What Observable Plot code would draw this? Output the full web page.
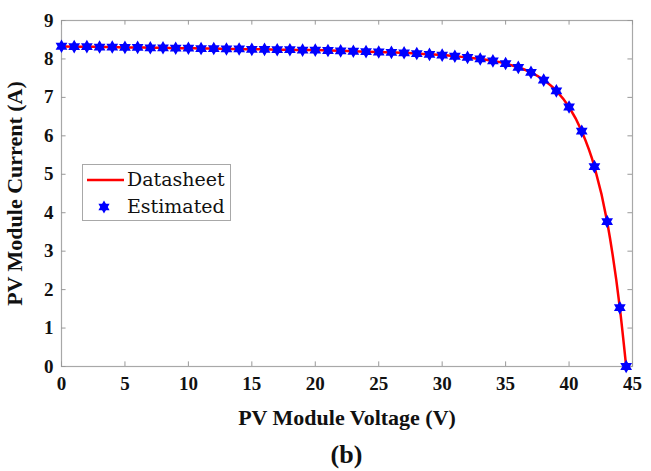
<!DOCTYPE html>
<html>
<head>
<meta charset="utf-8">
<script src="https://cdn.jsdelivr.net/npm/d3@7"></script>
<script src="https://cdn.jsdelivr.net/npm/@observablehq/plot@0.6"></script>
<style>
  html, body { margin: 0; padding: 0; background: #fff; }
  #wrap { position: relative; width: 651px; height: 471px; }
  #legend {
    position: absolute; left: 82px; top: 164px; width: 149px; height: 57px;
    border: 1px solid #a8a8a8; background: #fff; box-sizing: border-box;
    font-family: "DejaVu Serif", serif; font-size: 19px; color: #111;
  }
  .lrow { position: absolute; left: 0; height: 26px; }
  .lrow span { position: absolute; left: 44px; white-space: nowrap; line-height: 26px; }
  #caption {
    position: absolute; left: 61px; width: 571px; top: 438px; text-align: center; line-height: 34px;
    font-family: "Liberation Serif", "Times New Roman", serif; font-weight: bold; font-size: 26px; color: #111;
  }
</style>
</head>
<body>
<div id="wrap">
  <div id="chart"></div>
  <div id="legend">
    <div class="lrow" style="top:2px;">
      <svg width="44" height="26" style="position:absolute;left:3px;top:0"><line x1="1" y1="13" x2="38" y2="13" stroke="#ff0000" stroke-width="2.5"/></svg>
      <span style="top:-1px;">Datasheet</span>
    </div>
    <div class="lrow" style="top:29px;">
      <svg width="44" height="26" style="position:absolute;left:3px;top:0"><g transform="translate(18,13)"><polygon points="0,-6.5 5.6,3.25 -5.6,3.25" fill="#0000ff"/><polygon points="0,6.5 -5.6,-3.25 5.6,-3.25" fill="#0000ff"/></g></svg>
      <span style="top:-1px;">Estimated</span>
    </div>
  </div>
  <div id="caption">(b)</div>
</div>
<script>
// Data
const voltage = [0,1,2,3,4,5,6,7,8,9,10,11,12,13,14,15,16,17,18,19,20,21,22,23,24,25,26,27,28,29,30,31,32,33,34,35,36,37,38,39,40,41,42,43,44,44.5];
const datasheetCurrent = [8.33,8.32,8.32,8.31,8.31,8.30,8.30,8.29,8.29,8.28,8.28,8.27,8.27,8.26,8.26,8.25,8.25,8.24,8.24,8.23,8.23,8.22,8.21,8.20,8.19,8.18,8.17,8.16,8.14,8.12,8.10,8.07,8.04,8.00,7.95,7.88,7.78,7.65,7.45,7.17,6.75,6.12,5.20,3.77,1.53,0];
const estimatedCurrent = [8.33,8.32,8.32,8.31,8.31,8.30,8.30,8.29,8.29,8.28,8.28,8.27,8.27,8.26,8.26,8.25,8.25,8.24,8.24,8.23,8.23,8.22,8.21,8.20,8.19,8.18,8.17,8.16,8.14,8.12,8.10,8.07,8.04,8.00,7.95,7.88,7.78,7.65,7.45,7.17,6.75,6.12,5.20,3.77,1.53,0];
const xTicks = [0,5,10,15,20,25,30,35,40,45];
const yTicks = [0,1,2,3,4,5,6,7,8,9];
const xLabel = "PV Module Voltage (V)";
const yLabel = "PV Module Current (A)";

const datasheet = voltage.map((v, i) => ({v, i: datasheetCurrent[i]}));
const estimated = voltage.map((v, i) => ({v, i: estimatedCurrent[i]}));

const hexagram = {
  draw(ctx, size) {
    const R = Math.sqrt(size / Math.PI);
    const c = R * Math.cos(Math.PI / 6);
    ctx.moveTo(0, -R); ctx.lineTo(c, R / 2); ctx.lineTo(-c, R / 2); ctx.closePath();
    ctx.moveTo(0, R); ctx.lineTo(-c, -R / 2); ctx.lineTo(c, -R / 2); ctx.closePath();
  }
};

const tl = 0.12;   // inward tick length in y units (~4.6px)
const tlx = 0.36;  // inward tick length in x units (~4.6px)

const chart = Plot.plot({
  width: 651,
  height: 440,
  marginLeft: 61,
  marginRight: 19,
  marginTop: 20,
  marginBottom: 74,
  style: {fontFamily: "'Liberation Serif', 'Times New Roman', serif", fontWeight: "bold", fontSize: "19px", color: "#111", background: "#fff"},
  x: {domain: [0, 45]},
  y: {domain: [0, 9]},
  marks: [
    Plot.frame({stroke: "#a8a8a8", strokeWidth: 1.2}),
    Plot.ruleX(xTicks, {x: d => d, y1: 0, y2: tl, stroke: "#999"}),
    Plot.ruleX(xTicks, {x: d => d, y1: 9 - tl, y2: 9, stroke: "#999"}),
    Plot.ruleY(yTicks, {y: d => d, x1: 0, x2: tlx, stroke: "#999"}),
    Plot.ruleY(yTicks, {y: d => d, x1: 45 - tlx, x2: 45, stroke: "#999"}),
    Plot.axisX({ticks: xTicks, tickSize: 0, tickPadding: 10, fontSize: 19, label: null}),
    Plot.axisX({ticks: [], tickSize: 0, fontSize: 22, label: xLabel, labelAnchor: "center", labelArrow: "none", labelOffset: 58}),
    Plot.axisY({ticks: yTicks, tickSize: 0, tickPadding: 8, fontSize: 19, label: null}),
    Plot.axisY({ticks: [], tickSize: 0, fontSize: 22, label: yLabel, labelAnchor: "center", labelArrow: "none", labelOffset: 55}),
    Plot.line(datasheet, {x: "v", y: "i", stroke: "#ff0000", strokeWidth: 2.5, curve: "monotone-x"}),
    Plot.dot(estimated, {x: "v", y: "i", symbol: hexagram, r: 6.8, fill: "#0000ff", stroke: "none"})
  ]
});
document.getElementById("chart").appendChild(chart);
</script>
</body>
</html>
